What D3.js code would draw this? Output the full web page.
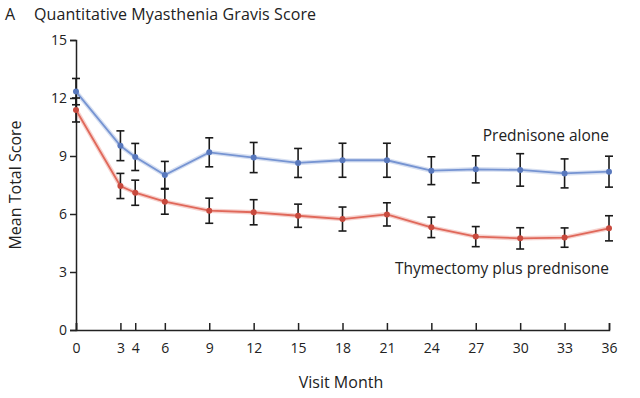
<!DOCTYPE html>
<html>
<head>
<meta charset="utf-8">
<script src="https://cdn.jsdelivr.net/npm/d3@7"></script>
<style>
  body { margin: 0; background: #fff; }
  text { font-family: "Open Sans", sans-serif; fill: #222; }
</style>
</head>
<body>
<div id="js-svg-container"></div>
<script>
let months = [0, 3, 4, 6, 9, 12, 15, 18, 21, 24, 27, 30, 33, 36];
let yTicks = [0, 3, 6, 9, 12, 15];

let prednisoneMean = [12.33, 9.53, 8.95, 8.02, 9.19, 8.92, 8.64, 8.78, 8.78, 8.24, 8.31, 8.28, 8.1, 8.19];
let prednisoneErr = [0.68, 0.77, 0.7, 0.7, 0.75, 0.78, 0.75, 0.88, 0.88, 0.72, 0.7, 0.84, 0.75, 0.8];

let thymectomyMean = [11.38, 7.45, 7.1, 6.64, 6.17, 6.09, 5.91, 5.74, 5.98, 5.31, 4.83, 4.74, 4.78, 5.26];
let thymectomyErr = [0.62, 0.65, 0.65, 0.65, 0.65, 0.65, 0.6, 0.62, 0.6, 0.53, 0.52, 0.55, 0.5, 0.65];

let margin = { top: 40, bottom: 68, left: 76, right: 31 };
let width = 640;
let height = 398;

let x = d3.scaleLinear()
    .domain([0, 36])
    .range([margin.left, width - margin.right]);

let y = d3.scaleLinear()
    .domain([0, 15])
    .range([height - margin.bottom, margin.top]);

let svg = d3.select('#js-svg-container')
    .append('svg')
    .attr('width', width)
    .attr('height', height);

// title
svg.append('text')
    .attr('x', 5).attr('y', 20)
    .style('font-size', '16px')
    .text('A');
svg.append('text')
    .attr('x', 34).attr('y', 20)
    .style('font-size', '16px')
    .attr('textLength', 282)
    .text('Quantitative Myasthenia Gravis Score');

// axes
let axisX = svg.append('g')
    .attr('transform', 'translate(0,' + y(0) + ')')
    .call(d3.axisBottom(x).tickValues(months).tickSize(-7).tickPadding(13));

let axisY = svg.append('g')
    .attr('transform', 'translate(' + x(0) + ',0)')
    .call(d3.axisLeft(y).tickValues(yTicks).tickSize(6).tickPadding(3));

[axisX, axisY].forEach(a => {
    a.select('.domain').attr('stroke', '#222').attr('stroke-width', 1.5);
    a.selectAll('.tick line').attr('stroke', '#222').attr('stroke-width', 1.5);
    a.selectAll('.tick text')
        .style('font-family', '"Open Sans", sans-serif')
        .style('font-size', '14px')
        .attr('fill', '#222');
});

svg.append('text')
    .attr('x', 341).attr('y', 388)
    .attr('text-anchor', 'middle')
    .style('font-size', '16px')
    .text('Visit Month');

svg.append('text')
    .attr('transform', 'translate(21,' + y(7.5) + ') rotate(-90)')
    .attr('text-anchor', 'middle')
    .style('font-size', '16px')
    .text('Mean Total Score');

let series = [
    { mean: prednisoneMean, err: prednisoneErr, line: '#7694d2', dot: '#5878bd' },
    { mean: thymectomyMean, err: thymectomyErr, line: '#e0685a', dot: '#c84a3e' }
];

let line = d3.line()
    .x(d => x(d[0]))
    .y(d => y(d[1]));

series.forEach(s => {
    let pts = months.map((m, i) => [m, s.mean[i], s.err[i]]);

    svg.append('path')
        .datum(pts)
        .attr('d', line)
        .attr('fill', 'none')
        .attr('stroke', s.line)
        .attr('stroke-opacity', 0.3)
        .attr('stroke-width', 4.5);

    svg.append('path')
        .datum(pts)
        .attr('d', line)
        .attr('fill', 'none')
        .attr('stroke', s.line)
        .attr('stroke-width', 1.8);

    let bars = svg.append('g')
        .selectAll('g')
        .data(pts)
        .enter()
        .append('g')
        .attr('stroke', '#1a1a1a')
        .attr('stroke-width', 1.6);

    bars.append('line')
        .attr('x1', d => x(d[0])).attr('x2', d => x(d[0]))
        .attr('y1', d => y(d[1] + d[2])).attr('y2', d => y(d[1] - d[2]));
    bars.append('line')
        .attr('x1', d => x(d[0]) - 4).attr('x2', d => x(d[0]) + 4)
        .attr('y1', d => y(d[1] + d[2])).attr('y2', d => y(d[1] + d[2]));
    bars.append('line')
        .attr('x1', d => x(d[0]) - 4).attr('x2', d => x(d[0]) + 4)
        .attr('y1', d => y(d[1] - d[2])).attr('y2', d => y(d[1] - d[2]));

    svg.append('g')
        .selectAll('circle')
        .data(pts)
        .enter()
        .append('circle')
        .attr('cx', d => x(d[0]))
        .attr('cy', d => y(d[1]))
        .attr('r', 3)
        .style('fill', s.dot);
});

svg.append('text')
    .attr('x', x(36)).attr('y', 141)
    .attr('text-anchor', 'end')
    .style('font-size', '15.5px')
    .text('Prednisone alone');

svg.append('text')
    .attr('x', x(36)).attr('y', 274)
    .attr('text-anchor', 'end')
    .style('font-size', '15.5px')
    .text('Thymectomy plus prednisone');
</script>
</body>
</html>
